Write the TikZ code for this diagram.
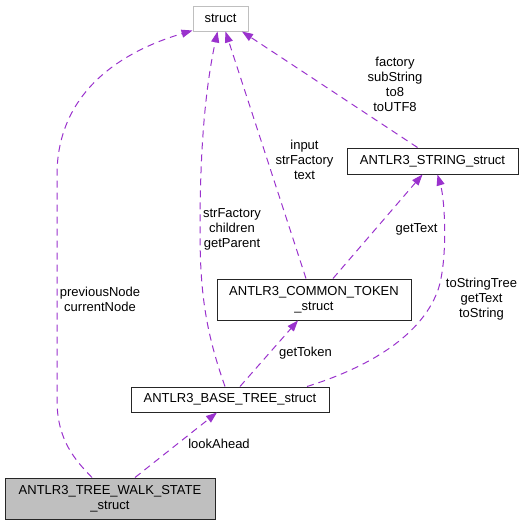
\documentclass[tikz,border=0pt]{standalone}
\usepackage{fontspec}
\setmainfont{Liberation Sans}
\usetikzlibrary{arrows.meta}
\definecolor{edgepurple}{HTML}{9A32CD}
\definecolor{lightborder}{HTML}{BFBFBF}
\definecolor{grayfill}{HTML}{BFBFBF}
\begin{document}
\begin{tikzpicture}[x=1pt,y=-1pt,
  font=\fontsize{13}{15}\selectfont,
  box/.style={draw=black!85, line width=1pt, inner sep=0pt, align=center, fill=white},
  rel/.style={draw=edgepurple, line width=1pt, dash pattern=on 7pt off 5pt,
    -{Triangle[length=11pt,width=8pt]}, fill=none},
  lbl/.style={inner sep=0pt, align=center}
]
\useasboundingbox (0,0) rectangle (524,525);

% nodes
\node[box, draw=lightborder, minimum width=55pt, minimum height=25pt] (s) at (220.5,18.5) {struct};
\node[box, minimum width=171pt, minimum height=26pt] (st) at (432.5,161) {ANTLR3\_STRING\_struct};
\node[box, minimum width=194pt, minimum height=41pt] (ct) at (314,299.5) {ANTLR3\_COMMON\_TOKEN\\\_struct};
\node[box, minimum width=198pt, minimum height=25pt] (bt) at (230,399.5) {ANTLR3\_BASE\_TREE\_struct};
\node[box, fill=grayfill, minimum width=210pt, minimum height=41pt] (tw) at (110,498.5) {ANTLR3\_TREE\_WALK\_STATE\\\_struct};

% edges
\draw[rel] ([xshift=-18pt]tw.north) .. controls (75,460) and (57,440) .. (57,400)
   -- (57,175) .. controls (57,100) and (110,55) .. ([yshift=1pt]s.south west);
\draw[rel] ([xshift=-5pt]bt.north) .. controls (205,330) and (200,290) .. (200,230)
   .. controls (200,150) and (205,90) .. ([xshift=-3pt]s.south);
\draw[rel] ([xshift=-8pt]ct.north) -- ([xshift=5pt]s.south);
\draw[rel] ([xshift=-15pt]st.north) -- ([xshift=21.5pt]s.south);
\draw[rel] ([xshift=19pt]ct.north) -- ([xshift=-10pt]st.south);
\draw[rel] ([xshift=77pt]bt.north) .. controls (360,370) and (420,340) .. (438,290)
   .. controls (448,260) and (445,200) .. ([xshift=5pt]st.south);
\draw[rel] ([xshift=10pt]bt.north) -- ([xshift=-16pt]ct.south);
\draw[rel] ([xshift=25pt]tw.north) -- ([xshift=-13pt]bt.south);

% labels
\node[lbl] (l1) at (100,299.5) {previousNode\\currentNode};
\node[lbl] (l2) at (232,229) {strFactory\\children\\getParent};
\node[lbl] (l3) at (304.5,160) {input\\strFactory\\text};
\node[lbl] (l4) at (395,84) {factory\\subString\\to8\\toUTF8};
\node[lbl] (l5) at (416.5,229) {getText};
\node[lbl] (l6) at (481.5,299) {toStringTree\\getText\\toString};
\node[lbl] (l7) at (305.5,353) {getToken};
\node[lbl] (l8) at (219,444) {lookAhead};
\end{tikzpicture}
\end{document}
